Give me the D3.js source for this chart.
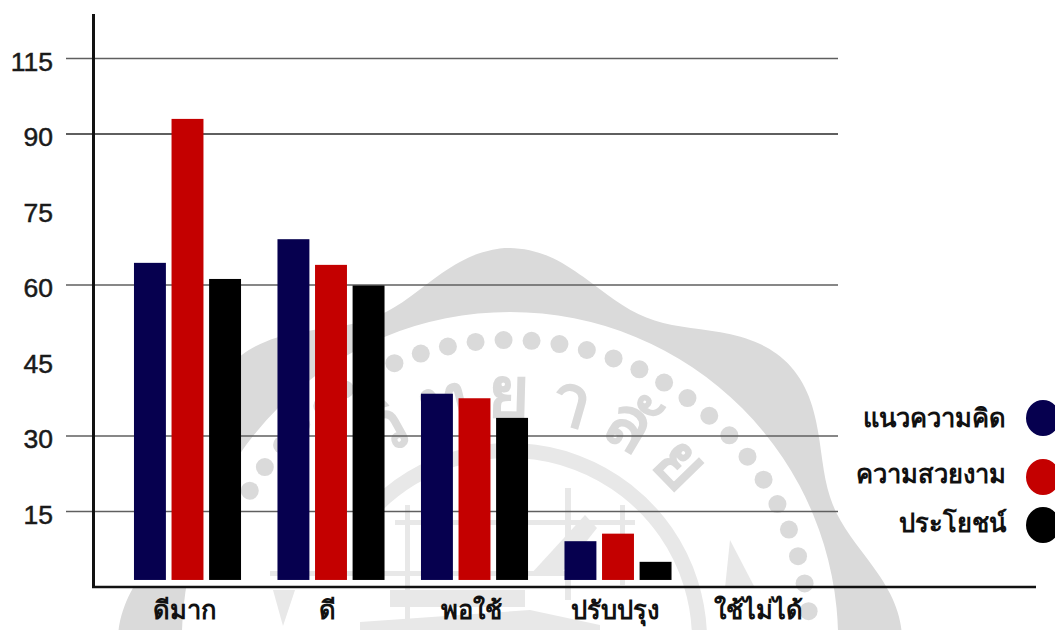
<!DOCTYPE html>
<html><head><meta charset="utf-8">
<script src="https://cdnjs.cloudflare.com/ajax/libs/d3/7.8.5/d3.min.js"></script>
<style>html,body{margin:0;padding:0;background:#fff}svg{display:block}</style></head>
<body><svg id="c" width="1055" height="630"></svg>
<script>
const categories = ["ดีมาก","ดี","พอใช้","ปรับปรุง","ใช้ไม่ได้"];
const seriesNames = ["แนวความคิด","ความสวยงาม","ประโยชน์"];
const seriesColors = ["#06004f","#c40000","#000000"];
const concept = [64.4,69.1,38.4,9.1,null];
const beauty  = [93,64,37.5,10.6,null];
const useful  = [61.2,59.9,33.6,5,null];
const seriesValues = [concept,beauty,useful];
const tickValues = [15,30,45,60,75,90,105];
const tickLabels = ["15","30","45","60","75","90","115"];
const gridValues = [15,30,60,90,105];
const barFloor = 1.4;
const thai = "'Noto Sans CJK SC','Noto Sans','Liberation Sans',sans-serif";

const svg = d3.select("#c");
const y = d3.scaleLinear().domain([0,105]).range([587,58.5]);
const x0 = d3.scaleBand().domain(categories).range([115.75,833.25]).paddingInner(.254).paddingOuter(.127);
const x1 = d3.scaleBand().domain(seriesNames).range([0,x0.bandwidth()]).paddingInner(.15);

// faint seal watermark behind the chart
const grey = "#dadada", pale = "#e8e8e8";
const cx=510, cy=640;
const wm = svg.append("g").attr("fill",grey);
const centre = wm.append("g").attr("transform",`translate(${cx},${cy})`);
const radial = d3.lineRadial().curve(d3.curveCardinalClosed).angle(d=>d).radius(d=>371+21*Math.cos(d*8));
centre.append("path").attr("fill-rule","evenodd")
  .attr("d",radial(d3.range(0,2*Math.PI,.05))+d3.arc()({innerRadius:0,outerRadius:328,startAngle:0,endAngle:2*Math.PI}));
wm.append("rect").attr("x",0).attr("y",0).attr("width",241).attr("height",587).attr("fill","#fff");
centre.selectAll("circle").data(d3.range(-1.05,1.56,.0935)).join("circle")
  .attr("cx",a=>300*Math.sin(a)).attr("cy",a=>-300*Math.cos(a)).attr("r",9);
centre.append("path").attr("fill",pale)
  .attr("d",d3.arc()({innerRadius:182,outerRadius:197,startAngle:-0.85,endAngle:1.57}));
svg.append("defs").append("path").attr("id","wa")
  .attr("d",`M${cx-222},${cy} A222,222 0 0 1 ${cx+222},${cy}`);
wm.append("text").attr("font-family",thai).attr("font-size",72).attr("font-weight",700).attr("letter-spacing",15)
  .append("textPath").attr("href","#wa").attr("startOffset","30%").text("วิทยาลัย");
const poly = d3.line();
const shapes = [
  [[390,590],[525,590],[525,607],[390,607]],
  [[360,622],[530,610],[600,625],[600,630],[360,630]],
  [[530,575],[585,515],[597,528],[560,575]],
  [[730,540],[755,588],[725,588]],
  [[273,590],[295,590],[283,626]],
  [[270,571],[570,571],[570,576],[270,576]],
  [[395,520],[635,520],[635,525],[395,525]],
  [[405,505],[410,505],[410,625],[405,625]],
  [[565,488],[571,488],[571,600],[565,600]],
  [[620,505],[625,505],[625,585],[620,585]]
];
wm.append("g").attr("fill",pale).selectAll("path").data(shapes).join("path").attr("d",d=>poly(d)+"Z");

// grid
svg.append("g").selectAll("line").data(gridValues).join("line")
  .attr("x1",66).attr("x2",838).attr("y1",d=>y(d)).attr("y2",d=>y(d))
  .attr("stroke","#5f5f5f").attr("stroke-width",d=>d===90?2:1.6);

// bars
const groups = svg.append("g").selectAll("g").data(categories).join("g")
  .attr("transform",c=>`translate(${x0(c)},0)`);
groups.selectAll("rect").data((c,i)=>seriesNames.map((s,j)=>({s,j,v:seriesValues[j][i]})).filter(d=>d.v!=null)).join("rect")
  .attr("x",d=>x1(d.s)).attr("width",x1.bandwidth())
  .attr("y",d=>y(d.v)).attr("height",d=>y(barFloor)-y(d.v))
  .attr("fill",d=>seriesColors[d.j]);

// axes
const axisY = svg.append("g").attr("transform","translate(53,0)")
  .call(d3.axisLeft(y).tickValues(tickValues).tickSize(0).tickPadding(0).tickFormat((d,i)=>tickLabels[i]));
axisY.select(".domain").remove();
axisY.selectAll("text").attr("font-family","'Liberation Sans',Arial,sans-serif").attr("font-size",26.5)
  .attr("fill","#1a1a1a").attr("stroke","#1a1a1a").attr("stroke-width",.5).attr("dy","0.44em");
svg.append("line").attr("x1",93.5).attr("x2",93.5).attr("y1",14).attr("y2",588).attr("stroke","#111").attr("stroke-width",3);
svg.append("line").attr("x1",92).attr("x2",1036).attr("y1",587).attr("y2",587).attr("stroke","#111").attr("stroke-width",2.5);

const axisX = svg.append("g").attr("transform","translate(-3.5,604)")
  .call(d3.axisBottom(x0).tickSize(0).tickPadding(0));
axisX.select(".domain").remove();
axisX.selectAll("text").attr("font-family",thai).attr("font-size",25.5).attr("font-weight",700).attr("fill","#111").attr("dy","0.6em");

// legend
const legendY=[418,477,525], legendTextY=[418,474,523];
const lg = svg.append("g").selectAll("g").data(seriesNames).join("g");
lg.append("ellipse").attr("cx",1043).attr("cy",(d,i)=>legendY[i]).attr("rx",17).attr("ry",18).attr("fill",(d,i)=>seriesColors[i]);
lg.append("text").attr("x",1006).attr("y",(d,i)=>legendTextY[i]).attr("dy","0.35em").attr("text-anchor","end")
  .attr("font-family",thai).attr("font-size",25.5).attr("font-weight",700).attr("fill","#111").text(d=>d);
</script></body></html>
